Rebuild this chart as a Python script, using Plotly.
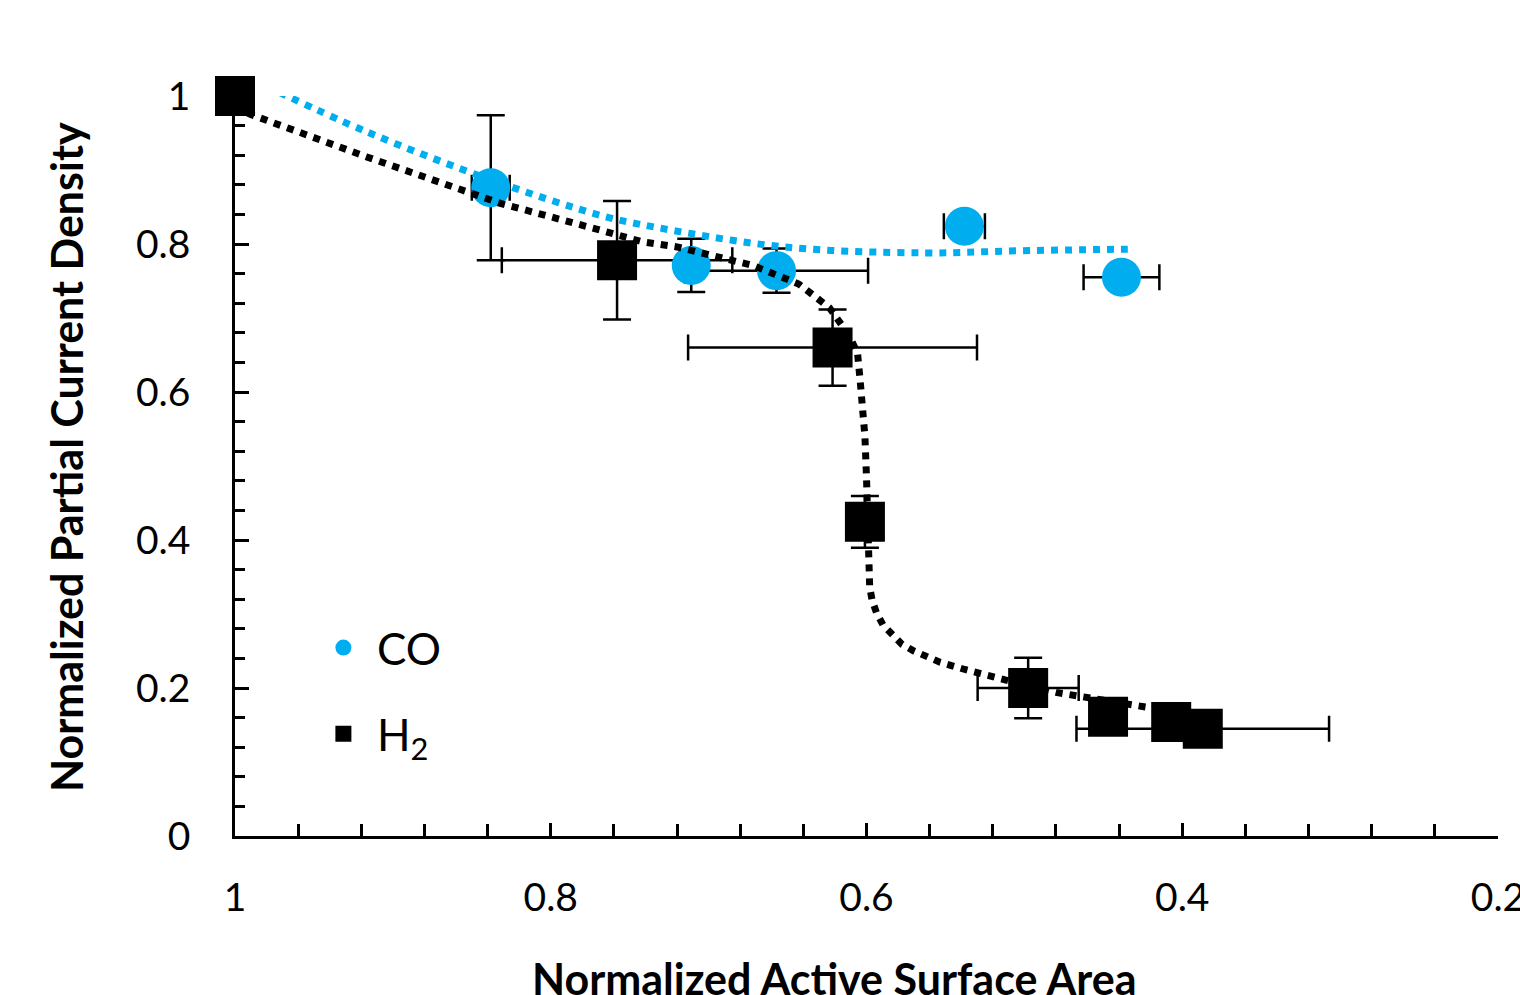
import plotly.graph_objects as go

# ---- data ----
co_x = [1.0, 0.838, 0.711, 0.657, 0.538, 0.4385]
co_y = [1.0, 0.876, 0.771, 0.764, 0.824, 0.755]
co_xerr = [None, 0.012, None, 0.058, 0.013, 0.024]
co_yerr = [None, 0.098, 0.036, 0.030, None, None]

h2_x = [1.0, 0.758, 0.6215, 0.601, 0.4976, 0.447, 0.407, 0.387]
h2_y = [1.0, 0.778, 0.660, 0.4245, 0.200, 0.161, 0.154, 0.145]
h2_xerr = [None, 0.073, 0.0915, None, 0.032, None, None, 0.080]
h2_yerr = [None, 0.080, 0.0515, 0.035, 0.041, None, None, None]

co_fit_x = [0.98, 0.917, 0.837, 0.769, 0.742, 0.652, 0.563, 0.502, 0.4345]
co_fit_y = [1.013, 0.952, 0.886, 0.839, 0.826, 0.796, 0.788, 0.791, 0.793]

h2_fit_x = [1.0, 0.99, 0.917, 0.832, 0.769, 0.742, 0.720, 0.672, 0.643, 0.6235,
            0.6115, 0.6057, 0.604, 0.603, 0.601, 0.600, 0.5995, 0.599, 0.598,
            0.5965, 0.5937, 0.5895, 0.584, 0.5775, 0.570, 0.562, 0.5535, 0.5377,
            0.521, 0.5123, 0.480, 0.463, 0.428, 0.405]
h2_fit_y = [0.985, 0.975, 0.918, 0.855, 0.819, 0.803, 0.796, 0.771, 0.746, 0.714,
            0.678, 0.653, 0.615, 0.594, 0.540, 0.485, 0.430, 0.375, 0.337,
            0.319, 0.302, 0.285, 0.272, 0.259, 0.250, 0.242, 0.235, 0.225,
            0.215, 0.211, 0.194, 0.188, 0.176, 0.168]

x_ticks = [1.0, 0.8, 0.6, 0.4, 0.2]
x_ticktext = ["1", "0.8", "0.6", "0.4", "0.2"]
y_ticks = [0, 0.2, 0.4, 0.6, 0.8, 1.0]
y_ticktext = ["0", "0.2", "0.4", "0.6", "0.8", "1"]

x_title = "Normalized Active Surface Area"
y_title = "Normalized Partial Current Density"

BLUE = "#00AEEF"
FONT = "Lato"

fig = go.Figure()

def err(arr, w):
    return dict(type="data", array=arr, symmetric=True, color="black",
                thickness=2.5, width=w, visible=True)

# H2 error bars (drawn underneath everything)
fig.add_trace(go.Scatter(
    x=h2_x, y=h2_y, mode="markers", showlegend=False, hoverinfo="skip",
    marker=dict(size=1, color="rgba(0,0,0,0)"),
    error_x=err(h2_xerr, 13), error_y=err(h2_yerr, 14), cliponaxis=False))

# CO points
fig.add_trace(go.Scatter(
    x=co_x, y=co_y, mode="markers", name="CO", legendgroup="co",
    marker=dict(symbol="circle", size=39, color=BLUE, line=dict(width=0)),
    error_x=err(co_xerr, 13), error_y=err(co_yerr, 14), cliponaxis=False))

# H2 points
fig.add_trace(go.Scatter(
    x=h2_x, y=h2_y, mode="markers", name="H<sub>2</sub>", legendgroup="h2",
    marker=dict(symbol="square", size=40, color="black", line=dict(width=0)),
    cliponaxis=False))

# trendlines
fig.add_trace(go.Scatter(
    x=co_fit_x, y=co_fit_y, mode="lines", showlegend=False, hoverinfo="skip",
    line=dict(color=BLUE, width=7, dash="7px,7px", shape="spline"), cliponaxis=False))
fig.add_trace(go.Scatter(
    x=h2_fit_x, y=h2_fit_y, mode="lines", showlegend=False, hoverinfo="skip",
    line=dict(color="black", width=7, dash="7px,7px"), cliponaxis=False))

axis_common = dict(
    showgrid=False, zeroline=False, showline=True, linecolor="black", linewidth=2.5,
    ticks="inside", tickcolor="black", tickwidth=2.5, automargin=False,
    ticklabeloverflow="allow",
    tickfont=dict(family=FONT, size=39, color="black"),
)

title_font = dict(family=FONT, size=43, weight=700, color="black")

fig.update_layout(
    width=1520, height=995,
    margin=dict(l=235, r=22, t=96, b=159),
    paper_bgcolor="white", plot_bgcolor="white",
    font=dict(family=FONT, color="black"),
    xaxis=dict(
        range=[1.0, 0.2], tickvals=x_ticks, ticktext=x_ticktext, ticklen=13,
        ticklabelstandoff=25,
        minor=dict(dtick=0.04, tick0=0.2, ticks="inside", ticklen=12, tickwidth=2.5,
                   tickcolor="black", showgrid=False),
        **axis_common),
    yaxis=dict(
        range=[0, 1.0], tickvals=y_ticks, ticktext=y_ticktext, ticklen=14,
        ticklabelstandoff=34,
        minor=dict(dtick=0.04, tick0=0, ticks="inside", ticklen=10, tickwidth=2.5,
                   tickcolor="black", showgrid=False),
        **axis_common),
    legend=dict(
        x=0.0593, y=0.302, xanchor="left", yanchor="top",
        font=dict(family=FONT, size=44, color="black"),
        bgcolor="rgba(0,0,0,0)", borderwidth=0, itemwidth=57,
        traceorder="grouped", tracegroupgap=26),
    showlegend=True,
    annotations=[
        dict(text=x_title, xref="paper", yref="paper", x=(834 - 235) / 1263, y=(836 - 979) / 740,
             xanchor="center", yanchor="middle", showarrow=False, font=title_font),
        dict(text=y_title, xref="paper", yref="paper", x=(66 - 235) / 1263, y=(836 - 457) / 740,
             xanchor="center", yanchor="middle", showarrow=False, textangle=-90, font=title_font),
    ],
)

fig.write_html("out.html", config={"displayModeBar": False},
               post_script="document.body.style.margin='0';")
